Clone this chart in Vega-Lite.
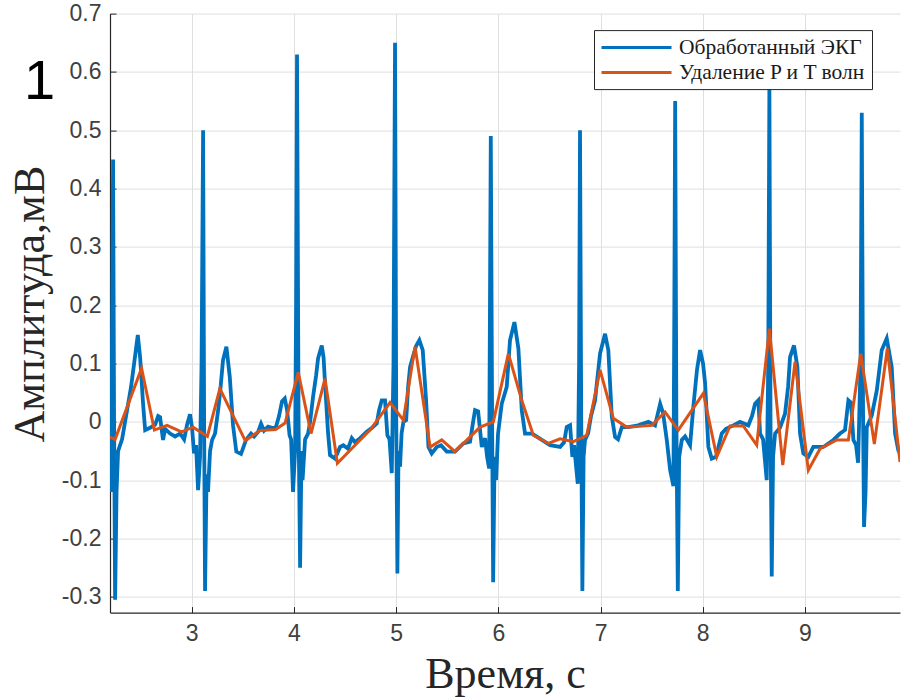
{
  "$schema": "https://vega.github.io/schema/vega-lite/v6.json",
  "width": 790,
  "height": 599,
  "autosize": "none",
  "padding": {"left": 110, "top": 13.6, "right": 2, "bottom": 85.4},
  "background": "white",
  "title": {"text": "1", "anchor": "start", "frame": "group", "font": "Liberation Sans", "fontSize": 56, "fontWeight": "normal", "color": "black", "dx": -86, "dy": 152, "offset": 0, "baseline": "alphabetic"},
  "config": {
    "view": {"stroke": null},
    "axis": {"gridColor": "#dfdfdf", "gridWidth": 1, "domainColor": "#262626", "domainWidth": 1.2, "tickColor": "#262626", "tickSize": -6, "labelFont": "Liberation Sans", "labelFontSize": 23, "labelColor": "#404040", "titleFont": "Liberation Serif", "titleFontSize": 44, "titleFontWeight": "normal", "titleColor": "#262626"}
  },
  "data": {"values": [
    {"t":2.200,"v":-0.03,"s":"Обработанный ЭКГ"},
    {"t":2.210,"v":-0.12,"s":"Обработанный ЭКГ"},
    {"t":2.222,"v":0.2,"s":"Обработанный ЭКГ"},
    {"t":2.230,"v":0.45,"s":"Обработанный ЭКГ"},
    {"t":2.240,"v":0.0,"s":"Обработанный ЭКГ"},
    {"t":2.250,"v":-0.305,"s":"Обработанный ЭКГ"},
    {"t":2.264,"v":-0.12,"s":"Обработанный ЭКГ"},
    {"t":2.279,"v":-0.05,"s":"Обработанный ЭКГ"},
    {"t":2.318,"v":-0.03,"s":"Обработанный ЭКГ"},
    {"t":2.367,"v":0.02,"s":"Обработанный ЭКГ"},
    {"t":2.406,"v":0.06,"s":"Обработанный ЭКГ"},
    {"t":2.436,"v":0.1,"s":"Обработанный ЭКГ"},
    {"t":2.472,"v":0.149,"s":"Обработанный ЭКГ"},
    {"t":2.495,"v":0.11,"s":"Обработанный ЭКГ"},
    {"t":2.524,"v":0.03,"s":"Обработанный ЭКГ"},
    {"t":2.544,"v":-0.014,"s":"Обработанный ЭКГ"},
    {"t":2.592,"v":-0.01,"s":"Обработанный ЭКГ"},
    {"t":2.641,"v":-0.005,"s":"Обработанный ЭКГ"},
    {"t":2.671,"v":0.01,"s":"Обработанный ЭКГ"},
    {"t":2.690,"v":0.008,"s":"Обработанный ЭКГ"},
    {"t":2.719,"v":-0.031,"s":"Обработанный ЭКГ"},
    {"t":2.739,"v":-0.012,"s":"Обработанный ЭКГ"},
    {"t":2.788,"v":-0.02,"s":"Обработанный ЭКГ"},
    {"t":2.837,"v":-0.025,"s":"Обработанный ЭКГ"},
    {"t":2.886,"v":-0.02,"s":"Обработанный ЭКГ"},
    {"t":2.925,"v":-0.03,"s":"Обработанный ЭКГ"},
    {"t":2.954,"v":-0.005,"s":"Обработанный ЭКГ"},
    {"t":2.983,"v":0.013,"s":"Обработанный ЭКГ"},
    {"t":3.003,"v":-0.01,"s":"Обработанный ЭКГ"},
    {"t":3.022,"v":-0.054,"s":"Обработанный ЭКГ"},
    {"t":3.042,"v":-0.04,"s":"Обработанный ЭКГ"},
    {"t":3.062,"v":-0.117,"s":"Обработанный ЭКГ"},
    {"t":3.081,"v":-0.06,"s":"Обработанный ЭКГ"},
    {"t":3.096,"v":0.1,"s":"Обработанный ЭКГ"},
    {"t":3.111,"v":0.5,"s":"Обработанный ЭКГ"},
    {"t":3.121,"v":0.0,"s":"Обработанный ЭКГ"},
    {"t":3.130,"v":-0.29,"s":"Обработанный ЭКГ"},
    {"t":3.145,"v":-0.09,"s":"Обработанный ЭКГ"},
    {"t":3.159,"v":-0.12,"s":"Обработанный ЭКГ"},
    {"t":3.179,"v":-0.05,"s":"Обработанный ЭКГ"},
    {"t":3.199,"v":-0.031,"s":"Обработанный ЭКГ"},
    {"t":3.228,"v":-0.02,"s":"Обработанный ЭКГ"},
    {"t":3.258,"v":0.02,"s":"Обработанный ЭКГ"},
    {"t":3.277,"v":0.05,"s":"Обработанный ЭКГ"},
    {"t":3.306,"v":0.106,"s":"Обработанный ЭКГ"},
    {"t":3.339,"v":0.129,"s":"Обработанный ЭКГ"},
    {"t":3.372,"v":0.077,"s":"Обработанный ЭКГ"},
    {"t":3.404,"v":-0.006,"s":"Обработанный ЭКГ"},
    {"t":3.436,"v":-0.051,"s":"Обработанный ЭКГ"},
    {"t":3.482,"v":-0.055,"s":"Обработанный ЭКГ"},
    {"t":3.531,"v":-0.031,"s":"Обработанный ЭКГ"},
    {"t":3.580,"v":-0.02,"s":"Обработанный ЭКГ"},
    {"t":3.610,"v":-0.025,"s":"Обработанный ЭКГ"},
    {"t":3.649,"v":-0.017,"s":"Обработанный ЭКГ"},
    {"t":3.678,"v":-0.003,"s":"Обработанный ЭКГ"},
    {"t":3.707,"v":-0.015,"s":"Обработанный ЭКГ"},
    {"t":3.747,"v":-0.008,"s":"Обработанный ЭКГ"},
    {"t":3.786,"v":-0.01,"s":"Обработанный ЭКГ"},
    {"t":3.825,"v":-0.008,"s":"Обработанный ЭКГ"},
    {"t":3.854,"v":0.01,"s":"Обработанный ЭКГ"},
    {"t":3.883,"v":0.035,"s":"Обработанный ЭКГ"},
    {"t":3.910,"v":0.04,"s":"Обработанный ЭКГ"},
    {"t":3.933,"v":0.02,"s":"Обработанный ЭКГ"},
    {"t":3.957,"v":-0.023,"s":"Обработанный ЭКГ"},
    {"t":3.972,"v":-0.03,"s":"Обработанный ЭКГ"},
    {"t":3.991,"v":-0.12,"s":"Обработанный ЭКГ"},
    {"t":4.011,"v":-0.05,"s":"Обработанный ЭКГ"},
    {"t":4.021,"v":0.2,"s":"Обработанный ЭКГ"},
    {"t":4.030,"v":0.63,"s":"Обработанный ЭКГ"},
    {"t":4.045,"v":0.0,"s":"Обработанный ЭКГ"},
    {"t":4.060,"v":-0.25,"s":"Обработанный ЭКГ"},
    {"t":4.074,"v":-0.05,"s":"Обработанный ЭКГ"},
    {"t":4.084,"v":-0.1,"s":"Обработанный ЭКГ"},
    {"t":4.109,"v":-0.03,"s":"Обработанный ЭКГ"},
    {"t":4.138,"v":-0.02,"s":"Обработанный ЭКГ"},
    {"t":4.158,"v":0.0,"s":"Обработанный ЭКГ"},
    {"t":4.187,"v":0.043,"s":"Обработанный ЭКГ"},
    {"t":4.217,"v":0.08,"s":"Обработанный ЭКГ"},
    {"t":4.236,"v":0.109,"s":"Обработанный ЭКГ"},
    {"t":4.272,"v":0.131,"s":"Обработанный ЭКГ"},
    {"t":4.290,"v":0.11,"s":"Обработанный ЭКГ"},
    {"t":4.304,"v":0.066,"s":"Обработанный ЭКГ"},
    {"t":4.334,"v":-0.02,"s":"Обработанный ЭКГ"},
    {"t":4.353,"v":-0.057,"s":"Обработанный ЭКГ"},
    {"t":4.402,"v":-0.063,"s":"Обработанный ЭКГ"},
    {"t":4.451,"v":-0.043,"s":"Обработанный ЭКГ"},
    {"t":4.483,"v":-0.04,"s":"Обработанный ЭКГ"},
    {"t":4.529,"v":-0.046,"s":"Обработанный ЭКГ"},
    {"t":4.566,"v":-0.028,"s":"Обработанный ЭКГ"},
    {"t":4.598,"v":-0.035,"s":"Обработанный ЭКГ"},
    {"t":4.647,"v":-0.028,"s":"Обработанный ЭКГ"},
    {"t":4.712,"v":-0.017,"s":"Обработанный ЭКГ"},
    {"t":4.764,"v":-0.01,"s":"Обработанный ЭКГ"},
    {"t":4.810,"v":-0.003,"s":"Обработанный ЭКГ"},
    {"t":4.833,"v":0.02,"s":"Обработанный ЭКГ"},
    {"t":4.859,"v":0.037,"s":"Обработанный ЭКГ"},
    {"t":4.891,"v":0.037,"s":"Обработанный ЭКГ"},
    {"t":4.914,"v":-0.023,"s":"Обработанный ЭКГ"},
    {"t":4.935,"v":-0.03,"s":"Обработанный ЭКГ"},
    {"t":4.957,"v":-0.088,"s":"Обработанный ЭКГ"},
    {"t":4.974,"v":0.1,"s":"Обработанный ЭКГ"},
    {"t":4.989,"v":0.65,"s":"Обработанный ЭКГ"},
    {"t":5.001,"v":0.0,"s":"Обработанный ЭКГ"},
    {"t":5.012,"v":-0.26,"s":"Обработанный ЭКГ"},
    {"t":5.023,"v":-0.05,"s":"Обработанный ЭКГ"},
    {"t":5.038,"v":-0.077,"s":"Обработанный ЭКГ"},
    {"t":5.053,"v":-0.02,"s":"Обработанный ЭКГ"},
    {"t":5.071,"v":0.0,"s":"Обработанный ЭКГ"},
    {"t":5.098,"v":0.003,"s":"Обработанный ЭКГ"},
    {"t":5.117,"v":0.06,"s":"Обработанный ЭКГ"},
    {"t":5.136,"v":0.094,"s":"Обработанный ЭКГ"},
    {"t":5.168,"v":0.114,"s":"Обработанный ЭКГ"},
    {"t":5.195,"v":0.13,"s":"Обработанный ЭКГ"},
    {"t":5.227,"v":0.14,"s":"Обработанный ЭКГ"},
    {"t":5.260,"v":0.123,"s":"Обработанный ЭКГ"},
    {"t":5.293,"v":0.037,"s":"Обработанный ЭКГ"},
    {"t":5.316,"v":-0.043,"s":"Обработанный ЭКГ"},
    {"t":5.348,"v":-0.054,"s":"Обработанный ЭКГ"},
    {"t":5.397,"v":-0.043,"s":"Обработанный ЭКГ"},
    {"t":5.439,"v":-0.04,"s":"Обработанный ЭКГ"},
    {"t":5.495,"v":-0.051,"s":"Обработанный ЭКГ"},
    {"t":5.576,"v":-0.051,"s":"Обработанный ЭКГ"},
    {"t":5.658,"v":-0.037,"s":"Обработанный ЭКГ"},
    {"t":5.723,"v":-0.034,"s":"Обработанный ЭКГ"},
    {"t":5.753,"v":0.0,"s":"Обработанный ЭКГ"},
    {"t":5.772,"v":0.02,"s":"Обработанный ЭКГ"},
    {"t":5.802,"v":0.018,"s":"Обработанный ЭКГ"},
    {"t":5.838,"v":-0.043,"s":"Обработанный ЭКГ"},
    {"t":5.870,"v":-0.028,"s":"Обработанный ЭКГ"},
    {"t":5.890,"v":-0.06,"s":"Обработанный ЭКГ"},
    {"t":5.910,"v":-0.08,"s":"Обработанный ЭКГ"},
    {"t":5.926,"v":0.49,"s":"Обработанный ЭКГ"},
    {"t":5.939,"v":0.0,"s":"Обработанный ЭКГ"},
    {"t":5.949,"v":-0.275,"s":"Обработанный ЭКГ"},
    {"t":5.963,"v":-0.06,"s":"Обработанный ЭКГ"},
    {"t":5.978,"v":-0.1,"s":"Обработанный ЭКГ"},
    {"t":5.997,"v":-0.02,"s":"Обработанный ЭКГ"},
    {"t":6.033,"v":0.031,"s":"Обработанный ЭКГ"},
    {"t":6.082,"v":0.06,"s":"Обработанный ЭКГ"},
    {"t":6.114,"v":0.14,"s":"Обработанный ЭКГ"},
    {"t":6.157,"v":0.171,"s":"Обработанный ЭКГ"},
    {"t":6.196,"v":0.126,"s":"Обработанный ЭКГ"},
    {"t":6.229,"v":0.02,"s":"Обработанный ЭКГ"},
    {"t":6.261,"v":-0.02,"s":"Обработанный ЭКГ"},
    {"t":6.330,"v":-0.02,"s":"Обработанный ЭКГ"},
    {"t":6.425,"v":-0.031,"s":"Обработанный ЭКГ"},
    {"t":6.506,"v":-0.04,"s":"Обработанный ЭКГ"},
    {"t":6.604,"v":-0.043,"s":"Обработанный ЭКГ"},
    {"t":6.643,"v":-0.035,"s":"Обработанный ЭКГ"},
    {"t":6.669,"v":-0.009,"s":"Обработанный ЭКГ"},
    {"t":6.702,"v":-0.006,"s":"Обработанный ЭКГ"},
    {"t":6.724,"v":-0.06,"s":"Обработанный ЭКГ"},
    {"t":6.741,"v":-0.04,"s":"Обработанный ЭКГ"},
    {"t":6.777,"v":-0.106,"s":"Обработанный ЭКГ"},
    {"t":6.790,"v":0.1,"s":"Обработанный ЭКГ"},
    {"t":6.799,"v":0.5,"s":"Обработанный ЭКГ"},
    {"t":6.811,"v":0.0,"s":"Обработанный ЭКГ"},
    {"t":6.822,"v":-0.29,"s":"Обработанный ЭКГ"},
    {"t":6.834,"v":-0.06,"s":"Обработанный ЭКГ"},
    {"t":6.848,"v":-0.031,"s":"Обработанный ЭКГ"},
    {"t":6.878,"v":-0.02,"s":"Обработанный ЭКГ"},
    {"t":6.907,"v":0.01,"s":"Обработанный ЭКГ"},
    {"t":6.946,"v":0.037,"s":"Обработанный ЭКГ"},
    {"t":6.995,"v":0.117,"s":"Обработанный ЭКГ"},
    {"t":7.044,"v":0.151,"s":"Обработанный ЭКГ"},
    {"t":7.076,"v":0.123,"s":"Обработанный ЭКГ"},
    {"t":7.110,"v":0.009,"s":"Обработанный ЭКГ"},
    {"t":7.142,"v":-0.026,"s":"Обработанный ЭКГ"},
    {"t":7.171,"v":-0.03,"s":"Обработанный ЭКГ"},
    {"t":7.208,"v":-0.009,"s":"Обработанный ЭКГ"},
    {"t":7.272,"v":-0.009,"s":"Обработанный ЭКГ"},
    {"t":7.367,"v":-0.006,"s":"Обработанный ЭКГ"},
    {"t":7.468,"v":0.0,"s":"Обработанный ЭКГ"},
    {"t":7.533,"v":-0.006,"s":"Обработанный ЭКГ"},
    {"t":7.583,"v":0.031,"s":"Обработанный ЭКГ"},
    {"t":7.612,"v":0.015,"s":"Обработанный ЭКГ"},
    {"t":7.648,"v":-0.031,"s":"Обработанный ЭКГ"},
    {"t":7.681,"v":-0.083,"s":"Обработанный ЭКГ"},
    {"t":7.713,"v":-0.11,"s":"Обработанный ЭКГ"},
    {"t":7.722,"v":0.2,"s":"Обработанный ЭКГ"},
    {"t":7.730,"v":0.55,"s":"Обработанный ЭКГ"},
    {"t":7.742,"v":0.0,"s":"Обработанный ЭКГ"},
    {"t":7.756,"v":-0.29,"s":"Обработанный ЭКГ"},
    {"t":7.769,"v":-0.06,"s":"Обработанный ЭКГ"},
    {"t":7.795,"v":-0.031,"s":"Обработанный ЭКГ"},
    {"t":7.827,"v":-0.025,"s":"Обработанный ЭКГ"},
    {"t":7.876,"v":-0.04,"s":"Обработанный ЭКГ"},
    {"t":7.908,"v":0.026,"s":"Обработанный ЭКГ"},
    {"t":7.944,"v":0.09,"s":"Обработанный ЭКГ"},
    {"t":7.974,"v":0.123,"s":"Обработанный ЭКГ"},
    {"t":8.003,"v":0.1,"s":"Обработанный ЭКГ"},
    {"t":8.023,"v":0.066,"s":"Обработанный ЭКГ"},
    {"t":8.055,"v":-0.043,"s":"Обработанный ЭКГ"},
    {"t":8.088,"v":-0.063,"s":"Обработанный ЭКГ"},
    {"t":8.130,"v":-0.06,"s":"Обработанный ЭКГ"},
    {"t":8.186,"v":-0.02,"s":"Обработанный ЭКГ"},
    {"t":8.228,"v":-0.012,"s":"Обработанный ЭКГ"},
    {"t":8.299,"v":-0.006,"s":"Обработанный ЭКГ"},
    {"t":8.364,"v":0.0,"s":"Обработанный ЭКГ"},
    {"t":8.446,"v":-0.006,"s":"Обработанный ЭКГ"},
    {"t":8.482,"v":0.01,"s":"Обработанный ЭКГ"},
    {"t":8.512,"v":0.031,"s":"Обработанный ЭКГ"},
    {"t":8.544,"v":0.037,"s":"Обработанный ЭКГ"},
    {"t":8.561,"v":-0.02,"s":"Обработанный ЭКГ"},
    {"t":8.590,"v":-0.03,"s":"Обработанный ЭКГ"},
    {"t":8.626,"v":-0.1,"s":"Обработанный ЭКГ"},
    {"t":8.641,"v":0.1,"s":"Обработанный ЭКГ"},
    {"t":8.652,"v":0.58,"s":"Обработанный ЭКГ"},
    {"t":8.663,"v":0.0,"s":"Обработанный ЭКГ"},
    {"t":8.675,"v":-0.265,"s":"Обработанный ЭКГ"},
    {"t":8.688,"v":-0.06,"s":"Обработанный ЭКГ"},
    {"t":8.708,"v":-0.02,"s":"Обработанный ЭКГ"},
    {"t":8.756,"v":-0.01,"s":"Обработанный ЭКГ"},
    {"t":8.805,"v":0.014,"s":"Обработанный ЭКГ"},
    {"t":8.835,"v":0.06,"s":"Обработанный ЭКГ"},
    {"t":8.854,"v":0.111,"s":"Обработанный ЭКГ"},
    {"t":8.893,"v":0.131,"s":"Обработанный ЭКГ"},
    {"t":8.926,"v":0.094,"s":"Обработанный ЭКГ"},
    {"t":8.952,"v":-0.02,"s":"Обработанный ЭКГ"},
    {"t":8.984,"v":-0.054,"s":"Обработанный ЭКГ"},
    {"t":9.033,"v":-0.06,"s":"Обработанный ЭКГ"},
    {"t":9.082,"v":-0.043,"s":"Обработанный ЭКГ"},
    {"t":9.180,"v":-0.043,"s":"Обработанный ЭКГ"},
    {"t":9.278,"v":-0.031,"s":"Обработанный ЭКГ"},
    {"t":9.343,"v":-0.02,"s":"Обработанный ЭКГ"},
    {"t":9.392,"v":-0.014,"s":"Обработанный ЭКГ"},
    {"t":9.425,"v":0.037,"s":"Обработанный ЭКГ"},
    {"t":9.451,"v":0.033,"s":"Обработанный ЭКГ"},
    {"t":9.474,"v":-0.031,"s":"Обработанный ЭКГ"},
    {"t":9.500,"v":-0.04,"s":"Обработанный ЭКГ"},
    {"t":9.520,"v":-0.07,"s":"Обработанный ЭКГ"},
    {"t":9.544,"v":0.1,"s":"Обработанный ЭКГ"},
    {"t":9.556,"v":0.53,"s":"Обработанный ЭКГ"},
    {"t":9.569,"v":0.0,"s":"Обработанный ЭКГ"},
    {"t":9.578,"v":-0.18,"s":"Обработанный ЭКГ"},
    {"t":9.593,"v":-0.12,"s":"Обработанный ЭКГ"},
    {"t":9.605,"v":-0.009,"s":"Обработанный ЭКГ"},
    {"t":9.654,"v":0.011,"s":"Обработанный ЭКГ"},
    {"t":9.703,"v":0.054,"s":"Обработанный ЭКГ"},
    {"t":9.751,"v":0.123,"s":"Обработанный ЭКГ"},
    {"t":9.800,"v":0.143,"s":"Обработанный ЭКГ"},
    {"t":9.849,"v":0.094,"s":"Обработанный ЭКГ"},
    {"t":9.882,"v":-0.02,"s":"Обработанный ЭКГ"},
    {"t":9.914,"v":-0.049,"s":"Обработанный ЭКГ"},
    {"t":9.931,"v":-0.054,"s":"Обработанный ЭКГ"},
    {"t":2.200,"v":-0.026,"s":"Удаление P и T волн"},
    {"t":2.250,"v":-0.03,"s":"Удаление P и T волн"},
    {"t":2.509,"v":0.092,"s":"Удаление P и T волн"},
    {"t":2.634,"v":-0.014,"s":"Удаление P и T волн"},
    {"t":2.758,"v":-0.006,"s":"Удаление P и T волн"},
    {"t":2.900,"v":-0.017,"s":"Удаление P и T волн"},
    {"t":3.013,"v":-0.009,"s":"Удаление P и T волн"},
    {"t":3.153,"v":-0.025,"s":"Удаление P и T волн"},
    {"t":3.275,"v":0.057,"s":"Удаление P и T волн"},
    {"t":3.523,"v":-0.032,"s":"Удаление P и T волн"},
    {"t":3.668,"v":-0.015,"s":"Удаление P и T волн"},
    {"t":3.820,"v":-0.013,"s":"Удаление P и T волн"},
    {"t":3.913,"v":-0.002,"s":"Удаление P и T волн"},
    {"t":4.042,"v":0.085,"s":"Удаление P и T волн"},
    {"t":4.167,"v":-0.02,"s":"Удаление P и T волн"},
    {"t":4.304,"v":0.074,"s":"Удаление P и T волн"},
    {"t":4.425,"v":-0.071,"s":"Удаление P и T волн"},
    {"t":4.614,"v":-0.037,"s":"Удаление P и T волн"},
    {"t":4.745,"v":-0.014,"s":"Удаление P и T волн"},
    {"t":4.940,"v":0.033,"s":"Удаление P и T волн"},
    {"t":5.070,"v":0.003,"s":"Удаление P и T волн"},
    {"t":5.185,"v":0.129,"s":"Удаление P и T волн"},
    {"t":5.332,"v":-0.043,"s":"Удаление P и T волн"},
    {"t":5.446,"v":-0.031,"s":"Удаление P и T волн"},
    {"t":5.576,"v":-0.051,"s":"Удаление P и T волн"},
    {"t":5.821,"v":-0.009,"s":"Удаление P и T волн"},
    {"t":5.951,"v":0.0,"s":"Удаление P и T волн"},
    {"t":6.098,"v":0.117,"s":"Удаление P и T волн"},
    {"t":6.229,"v":0.037,"s":"Удаление P и T волн"},
    {"t":6.342,"v":-0.023,"s":"Удаление P и T волн"},
    {"t":6.489,"v":-0.037,"s":"Удаление P и T волн"},
    {"t":6.604,"v":-0.029,"s":"Удаление P и T волн"},
    {"t":6.734,"v":-0.034,"s":"Удаление P и T волн"},
    {"t":6.865,"v":-0.023,"s":"Удаление P и T волн"},
    {"t":6.995,"v":0.089,"s":"Удаление P и T волн"},
    {"t":7.125,"v":0.006,"s":"Удаление P и T волн"},
    {"t":7.256,"v":-0.009,"s":"Удаление P и T волн"},
    {"t":7.501,"v":-0.006,"s":"Удаление P и T волн"},
    {"t":7.631,"v":0.017,"s":"Удаление P и T волн"},
    {"t":7.761,"v":-0.014,"s":"Удаление P и T волн"},
    {"t":8.006,"v":0.049,"s":"Удаление P и T волн"},
    {"t":8.137,"v":-0.06,"s":"Удаление P и T волн"},
    {"t":8.267,"v":-0.007,"s":"Удаление P и T волн"},
    {"t":8.397,"v":-0.007,"s":"Удаление P и T волн"},
    {"t":8.528,"v":-0.04,"s":"Удаление P и T волн"},
    {"t":8.652,"v":0.16,"s":"Удаление P и T волн"},
    {"t":8.783,"v":-0.074,"s":"Удаление P и T волн"},
    {"t":8.903,"v":0.103,"s":"Удаление P и T волн"},
    {"t":9.033,"v":-0.083,"s":"Удаление P и T волн"},
    {"t":9.148,"v":-0.046,"s":"Удаление P и T волн"},
    {"t":9.311,"v":-0.031,"s":"Удаление P и T волн"},
    {"t":9.425,"v":-0.031,"s":"Удаление P и T волн"},
    {"t":9.546,"v":0.117,"s":"Удаление P и T волн"},
    {"t":9.679,"v":-0.038,"s":"Удаление P и T волн"},
    {"t":9.806,"v":0.126,"s":"Удаление P и T волн"},
    {"t":9.930,"v":-0.069,"s":"Удаление P и T волн"}
  ]},
  "encoding": {
    "x": {"field": "t", "type": "quantitative", "scale": {"domain": [2.2, 9.93], "nice": false, "zero": false},
      "axis": {"title": "Время, с", "values": [3,4,5,6,7,8,9], "format": "d", "labelPadding": 16, "titleY": 75, "titleBaseline": "alphabetic"}},
    "y": {"field": "v", "type": "quantitative", "scale": {"domain": [-0.327, 0.7], "nice": false, "zero": false},
      "axis": {"title": "Амплитуда,мВ", "values": [-0.3,-0.2,-0.1,0,0.1,0.2,0.3,0.4,0.5,0.6,0.7], "labelExpr": "replace(format(datum.value, '.1~f'), '\u2212', '-')", "labelPadding": 15, "titleAngle": -90, "titleX": -67, "titleY": 290, "titleAlign": "center", "titleBaseline": "alphabetic"}},
    "color": {"field": "s", "type": "nominal",
      "scale": {"domain": ["Обработанный ЭКГ", "Удаление P и T волн"], "range": ["#0072BD", "#D95319"]},
      "legend": {"title": null, "orient": "none", "legendX": 484, "legendY": 16.5, "padding": 6, "strokeColor": "#262626", "fillColor": "white", "symbolType": "M-3.5,0H3.5", "symbolSize": 400, "symbolOffset": 25, "symbolStrokeWidth": 3, "labelFont": "Liberation Serif", "labelFontSize": 21.5, "labelColor": "#1a1a1a", "labelLimit": 0, "rowPadding": 3, "labelOffset": 31}}
  },
  "layer": [
    {"transform": [{"filter": "datum.s == 'Обработанный ЭКГ'"}], "mark": {"type": "line", "strokeWidth": 3.8, "clip": true}},
    {"transform": [{"filter": "datum.s == 'Удаление P и T волн'"}], "mark": {"type": "line", "strokeWidth": 3, "clip": true}}
  ]
}
